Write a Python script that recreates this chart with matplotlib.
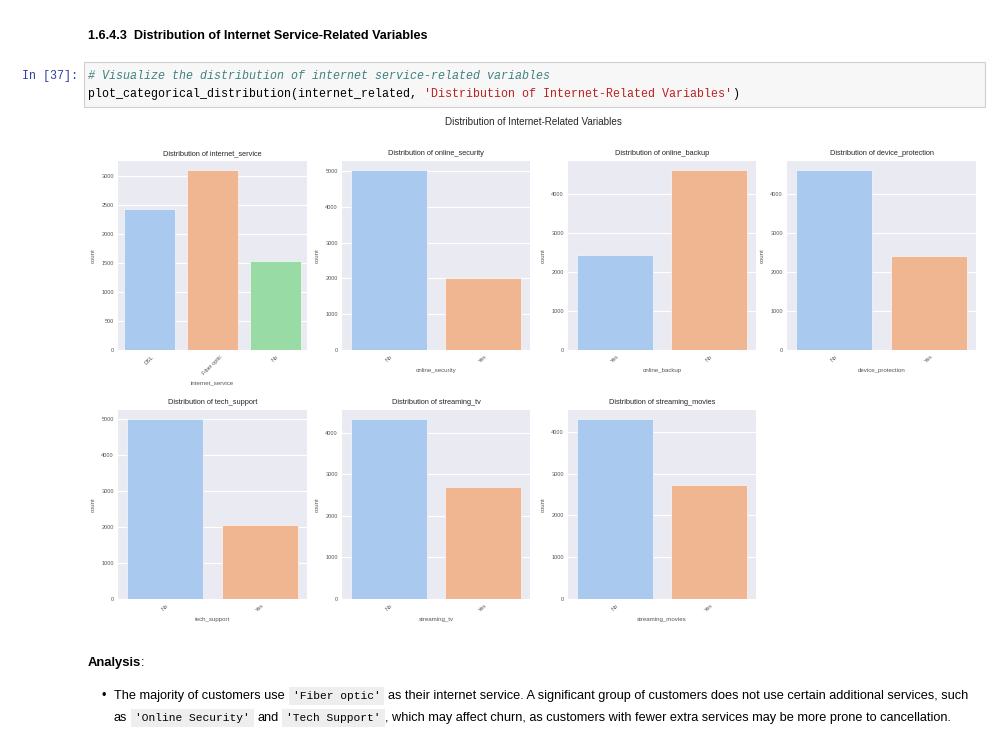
import numpy as np
import matplotlib.pyplot as plt
from matplotlib.patches import Rectangle
from matplotlib.ticker import MultipleLocator

# counts (one list per variable)
internet_service_cats = ['DSL', 'Fiber optic', 'No']
internet_service_counts = [2421, 3096, 1526]
online_security_cats = ['No', 'Yes']
online_security_counts = [5024, 2019]
online_backup_cats = ['Yes', 'No']
online_backup_counts = [2429, 4614]
device_protection_cats = ['No', 'Yes']
device_protection_counts = [4621, 2422]
tech_support_cats = ['No', 'Yes']
tech_support_counts = [4999, 2044]
streaming_tv_cats = ['No', 'Yes']
streaming_tv_counts = [4336, 2707]
streaming_movies_cats = ['No', 'Yes']
streaming_movies_counts = [4311, 2732]

variables = ['internet_service', 'online_security', 'online_backup', 'device_protection',
             'tech_support', 'streaming_tv', 'streaming_movies']
categories = [internet_service_cats, online_security_cats, online_backup_cats,
              device_protection_cats, tech_support_cats, streaming_tv_cats,
              streaming_movies_cats]
counts = [internet_service_counts, online_security_counts, online_backup_counts,
          device_protection_counts, tech_support_counts, streaming_tv_counts,
          streaming_movies_counts]

PASTEL = ['#a9c9ee', '#f0b691', '#98dba4']
W, H = 1000, 750
SANS = 'Liberation Sans'
MONO = 'Liberation Mono'

fig = plt.figure(figsize=(10, 7.5), dpi=100)
fig.patch.set_facecolor('white')


def fx(x):
    return x / W


def fy(y):
    return 1 - y / H


def add_px_axes(left, top, right, bottom):
    return fig.add_axes([fx(left), fy(bottom), (right - left) / W, (bottom - top) / H])


# --- notebook header -------------------------------------------------------
fig.text(fx(88), fy(36), '1.6.4.3  Distribution of Internet Service-Related Variables',
         family=SANS, fontweight='bold', fontsize=9.1, color='#000000', va='center')

fig.patches.append(Rectangle((fx(84), fy(107)), (985 - 84) / W, 45 / H,
                             transform=fig.transFigure, facecolor='#f7f7f7',
                             edgecolor='#cfcfcf', linewidth=0.8))
fig.text(fx(22), fy(76), 'In [37]:', family=MONO, fontsize=8.4, color='#303f9f', va='center')
fig.text(fx(88), fy(76), '# Visualize the distribution of internet service-related variables',
         family=MONO, fontsize=8.4, color='#408080', style='italic', va='center')

renderer = fig.canvas.get_renderer()


def draw_runs(runs, x, y):
    for s, kw in runs:
        if s is None:
            x += kw
            continue
        t = fig.text(fx(x), fy(y), s, va='center', ha='left', **kw)
        x += t.get_window_extent(renderer).width
    return x


code_kw = dict(family=MONO, fontsize=8.4, color='#000000')
draw_runs([
    ('plot_categorical_distribution(internet_related, ', code_kw),
    ("'Distribution of Internet-Related Variables'", dict(code_kw, color='#ba2121')),
    (')', code_kw),
], 88, 94)

# --- chart grid ------------------------------------------------------------
fig.text(fx(533), fy(122), 'Distribution of Internet-Related Variables',
         family=SANS, fontsize=7.1, color='#262626', ha='center', va='center')

col_x = [(118, 307), (342, 530), (568, 756), (787, 976)]
row_y = [(161, 350), (410, 599)]

for k, (var, cats, vals) in enumerate(zip(variables, categories, counts)):
    r, c = divmod(k, 4)
    ax = add_px_axes(col_x[c][0], row_y[r][0], col_x[c][1], row_y[r][1])
    ax.set_facecolor('#eaeaf2')
    ax.set_axisbelow(True)
    ax.grid(True, axis='y', color='white', linewidth=0.8)
    for sp in ax.spines.values():
        sp.set_visible(False)
    xpos = np.arange(len(cats))
    ax.bar(xpos, vals, width=0.8, color=PASTEL[:len(cats)], edgecolor='white', linewidth=0.4)
    ax.set_xlim(-0.5, len(cats) - 0.5)
    ax.set_ylim(0, max(vals) * 1.05)
    ax.yaxis.set_major_locator(MultipleLocator(500 if var == 'internet_service' else 1000))
    ax.set_xticks(xpos)
    ax.set_xticklabels(cats, rotation=45, family=SANS, fontsize=4.3, color='#555555')
    ax.tick_params(axis='both', length=0, pad=3, labelsize=4.0, colors='#555555')
    for lab in ax.get_yticklabels():
        lab.set_family(SANS)
    ax.set_title(f'Distribution of {var}', family=SANS, fontsize=5.3, color='#262626', pad=4)
    ax.set_ylabel('count', family=SANS, fontsize=4.3, color='#555555', labelpad=4)
    ax.set_xlabel(var, family=SANS, fontsize=4.4, color='#555555', labelpad=3)

# --- analysis markdown ----------------------------------------------------
draw_runs([('Analysis', dict(family=SANS, fontsize=9.4, fontweight='bold', color='#000000')),
           (':', dict(family=SANS, fontsize=9.4, color='#000000'))], 88, 663)

fig.text(fx(101), fy(696), '\u2022', family=SANS, fontsize=9, color='#000000', va='center')

txt = dict(family=SANS, fontsize=9.15, color='#000000')
cod = dict(family=MONO, fontsize=8.1, color='#000000',
           bbox=dict(boxstyle='square,pad=0.35', facecolor='#eeeeee', edgecolor='none'))

draw_runs([
    ('The majority of customers use', txt), (None, 8),
    ("'Fiber optic'", cod), (None, 7),
    ('as their internet service. A significant group of customers does not use certain '
     'additional services, such', txt),
], 114, 696)

draw_runs([
    ('as', txt), (None, 8),
    ("'Online Security'", cod), (None, 7),
    ('and', txt), (None, 8),
    ("'Tech Support'", cod), (None, 4),
    (', which may affect churn, as customers with fewer extra services may be more prone '
     'to cancellation.', txt),
], 114, 718)

fig.savefig('out.png', dpi=100, facecolor='white')
